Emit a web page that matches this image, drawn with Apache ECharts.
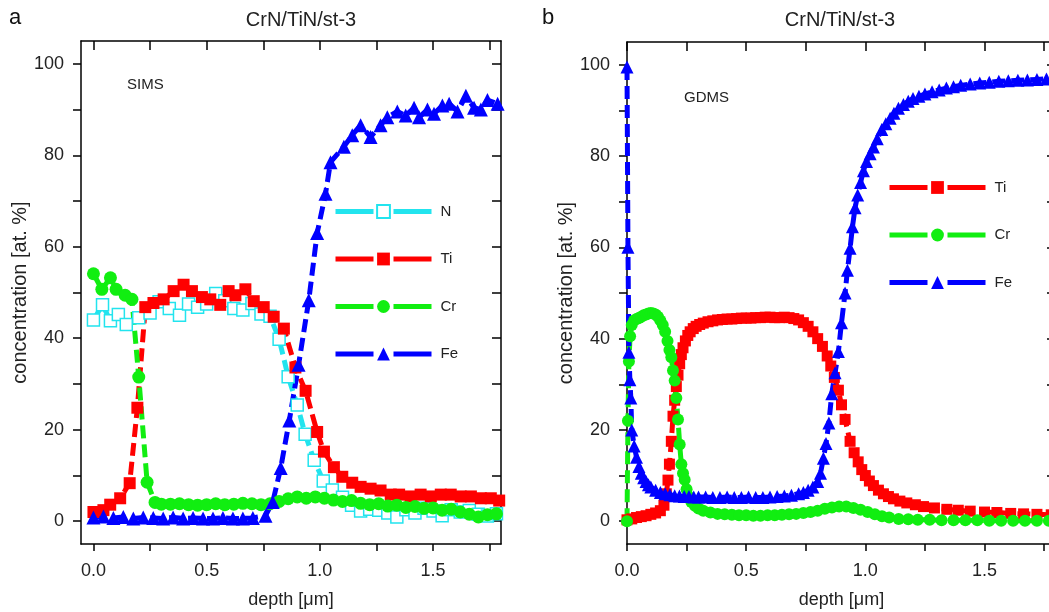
<!DOCTYPE html>
<html>
<head>
<meta charset="utf-8">
<script src="https://cdn.jsdelivr.net/npm/echarts@6/dist/echarts.min.js"></script>
<style>
  html, body { margin: 0; padding: 0; background: #ffffff; }
  #chart { width: 1049px; height: 612px; }
</style>
</head>
<body>
<div id="chart"></div>
<script>
// ---------- Panel a: SIMS depth profile ----------
const simsN_x  = [0, 0.04, 0.075, 0.11, 0.145, 0.2, 0.25, 0.29, 0.335, 0.38, 0.42, 0.46, 0.5, 0.54, 0.58, 0.62, 0.66, 0.7, 0.74, 0.78, 0.82, 0.86, 0.9, 0.935, 0.975, 1.015, 1.055, 1.1, 1.14, 1.18, 1.22, 1.26, 1.3, 1.34, 1.38, 1.42, 1.46, 1.5, 1.54, 1.58, 1.62, 1.66, 1.7, 1.74, 1.78];
const simsN_y  = [44, 47.3, 43.8, 45.2, 43, 44.5, 45.5, 48, 46.5, 45, 47.5, 46.8, 47.5, 49.8, 48.2, 46.5, 46.2, 47.6, 45.3, 44.8, 39.8, 31.6, 25.4, 19, 13.3, 8.8, 6.8, 5.2, 3.5, 2.2, 2.6, 2.4, 1.8, 0.9, 2.5, 1.8, 2.8, 2.2, 1.2, 2.5, 2, 2.3, 1.5, 1.1, 1.6];

const simsTi_x = [0, 0.044, 0.074, 0.118, 0.16, 0.194, 0.229, 0.265, 0.31, 0.354, 0.398, 0.435, 0.479, 0.516, 0.56, 0.597, 0.627, 0.671, 0.708, 0.752, 0.796, 0.841, 0.892, 0.937, 0.988, 1.018, 1.062, 1.099, 1.143, 1.18, 1.224, 1.268, 1.313, 1.35, 1.401, 1.445, 1.49, 1.534, 1.578, 1.622, 1.667, 1.711, 1.755, 1.792];
const simsTi_y = [2.0, 2.4, 3.6, 5.0, 8.3, 24.8, 46.8, 47.7, 48.5, 50.3, 51.7, 50.3, 49.0, 48.5, 47.3, 50.3, 49.4, 50.7, 48.1, 46.8, 44.7, 42.1, 33.6, 28.5, 19.5, 15.2, 11.8, 9.7, 8.4, 7.5, 7.1, 6.7, 5.8, 5.8, 5.4, 5.8, 5.4, 5.8, 5.8, 5.4, 5.4, 5.0, 5.0, 4.5];

const simsCr_x = [0, 0.037, 0.075, 0.1, 0.14, 0.17, 0.2, 0.237, 0.272, 0.3, 0.34, 0.38, 0.42, 0.46, 0.5, 0.54, 0.58, 0.62, 0.66, 0.7, 0.74, 0.78, 0.82, 0.86, 0.9, 0.94, 0.98, 1.02, 1.06, 1.1, 1.14, 1.18, 1.22, 1.26, 1.3, 1.34, 1.38, 1.42, 1.46, 1.5, 1.54, 1.58, 1.62, 1.66, 1.7, 1.74, 1.78];
const simsCr_y = [54.1, 50.7, 53.2, 50.7, 49.4, 48.5, 31.5, 8.5, 4.1, 3.7, 3.7, 3.8, 3.6, 3.5, 3.6, 3.8, 3.6, 3.7, 3.9, 3.8, 3.6, 3.8, 4.3, 4.9, 5.3, 5.0, 5.3, 5.0, 4.6, 4.3, 4.5, 3.9, 3.6, 3.8, 3.3, 3.5, 3.0, 3.2, 2.8, 2.9, 2.4, 2.6, 2.0, 1.5, 0.9, 1.4, 1.6];

const simsFe_x = [0, 0.044, 0.088, 0.132, 0.176, 0.22, 0.264, 0.308, 0.352, 0.396, 0.44, 0.484, 0.528, 0.572, 0.616, 0.66, 0.704, 0.76, 0.792, 0.827, 0.865, 0.906, 0.951, 0.988, 1.025, 1.047, 1.106, 1.143, 1.18, 1.224, 1.268, 1.298, 1.342, 1.379, 1.416, 1.438, 1.475, 1.504, 1.541, 1.571, 1.608, 1.645, 1.681, 1.711, 1.74, 1.785];
const simsFe_y = [0.8, 1.0, 0.7, 0.9, 0.6, 0.8, 0.7, 0.6, 0.8, 0.6, 0.7, 0.6, 0.6, 0.7, 0.6, 0.6, 0.7, 1.2, 4.2, 11.6, 22, 34.2, 48.3, 63, 71.6, 78.5, 81.9, 84.4, 86.6, 84, 86.6, 88.3, 89.6, 88.7, 90.4, 88.3, 90, 89.1, 90.9, 91.3, 89.6, 93, 90.4, 90, 92.1, 91.3];

// ---------- Panel b: GDMS depth profile ----------
const gdmsTi_x = [0, 0.02, 0.04, 0.06, 0.08, 0.1, 0.12, 0.14, 0.155, 0.165, 0.172, 0.178, 0.186, 0.193, 0.2, 0.207, 0.214, 0.221, 0.228, 0.235, 0.245, 0.255, 0.265, 0.278, 0.29, 0.305, 0.32, 0.34, 0.36, 0.38, 0.4, 0.42, 0.44, 0.46, 0.48, 0.5, 0.52, 0.54, 0.56, 0.58, 0.6, 0.62, 0.64, 0.66, 0.68, 0.7, 0.72, 0.74, 0.76, 0.78, 0.8, 0.82, 0.84, 0.855, 0.87, 0.887, 0.9, 0.915, 0.936, 0.953, 0.97, 0.985, 1.0, 1.017, 1.034, 1.055, 1.076, 1.097, 1.118, 1.145, 1.174, 1.21, 1.244, 1.29, 1.342, 1.39, 1.44, 1.5, 1.552, 1.61, 1.664, 1.72, 1.78];
const gdmsTi_y = [0.3, 0.5, 0.8, 1.0, 1.2, 1.5, 1.8, 2.3, 3.5, 6, 9, 12.5, 17.5, 23, 26.5, 29.5, 32, 34.5, 36.5, 38, 39.5, 40.7, 41.5, 42.2, 42.7, 43.1, 43.4, 43.7, 43.9, 44.1, 44.2, 44.3, 44.3, 44.4, 44.5, 44.5, 44.5, 44.6, 44.6, 44.7, 44.7, 44.6, 44.6, 44.7, 44.6, 44.4, 44.1, 43.5, 42.7, 41.5, 40, 38.3, 36.2, 34, 31.5, 28.7, 25.5, 22.3, 17.5, 15, 13, 11.3, 10, 8.8, 7.8, 6.8, 6.0, 5.4, 4.9, 4.4, 4.0, 3.6, 3.2, 2.9, 2.6, 2.4, 2.2, 2.0, 1.9, 1.7, 1.6, 1.5, 1.4];

const gdmsCr_x = [0, 0.004, 0.008, 0.013, 0.02, 0.03, 0.04, 0.05, 0.06, 0.07, 0.08, 0.09, 0.1, 0.11, 0.12, 0.13, 0.14, 0.15, 0.16, 0.17, 0.178, 0.186, 0.193, 0.2, 0.207, 0.214, 0.221, 0.228, 0.235, 0.242, 0.25, 0.26, 0.27, 0.285, 0.3, 0.32, 0.35, 0.38, 0.41, 0.44, 0.47, 0.5, 0.53, 0.56, 0.59, 0.62, 0.65, 0.68, 0.71, 0.74, 0.77, 0.8, 0.83, 0.86, 0.89, 0.92, 0.95, 0.98, 1.01, 1.04, 1.07, 1.1, 1.14, 1.18, 1.22, 1.27, 1.32, 1.37, 1.42, 1.47, 1.52, 1.57, 1.62, 1.67, 1.72, 1.77];
const gdmsCr_y = [0, 22, 35, 40.5, 43, 44, 44.3, 44.5, 44.8, 45.1, 45.3, 45.5, 45.6, 45.5, 45.3, 44.8, 44, 43, 41.5, 39.5, 37.5, 35.9, 33, 30.8, 27, 22.3, 16.8, 12.5, 10.5, 9.1, 7, 5.3, 4.2, 3.4, 2.8, 2.3, 1.9, 1.6, 1.5, 1.4, 1.3, 1.3, 1.2, 1.2, 1.3, 1.3, 1.4, 1.5, 1.6, 1.8, 2.0, 2.3, 2.7, 3.0, 3.2, 3.2, 2.9, 2.5, 2.0, 1.5, 1.1, 0.8, 0.5, 0.4, 0.3, 0.3, 0.2, 0.2, 0.2, 0.2, 0.1, 0.1, 0.1, 0.1, 0.1, 0.1];

const gdmsFe_x = [0, 0.004, 0.008, 0.012, 0.016, 0.02, 0.03, 0.04, 0.05, 0.06, 0.07, 0.08, 0.09, 0.1, 0.12, 0.14, 0.16, 0.18, 0.2, 0.22, 0.24, 0.26, 0.28, 0.3, 0.33, 0.36, 0.39, 0.42, 0.45, 0.48, 0.51, 0.54, 0.57, 0.6, 0.63, 0.66, 0.69, 0.72, 0.74, 0.76, 0.78, 0.8, 0.812, 0.824, 0.835, 0.847, 0.859, 0.873, 0.887, 0.9, 0.915, 0.925, 0.936, 0.946, 0.957, 0.968, 0.98, 0.992, 1.005, 1.02, 1.034, 1.05, 1.069, 1.086, 1.104, 1.12, 1.139, 1.16, 1.18, 1.2, 1.225, 1.25, 1.28, 1.31, 1.34, 1.37, 1.4, 1.44, 1.48, 1.52, 1.56, 1.6, 1.64, 1.68, 1.72, 1.76, 1.8];
const gdmsFe_y = [99.5, 60, 37, 31, 27, 20, 16.5, 14, 12, 10.5, 9.5, 8.7, 8, 7.5, 6.8, 6.3, 6.0, 5.8, 5.6, 5.5, 5.4, 5.4, 5.3, 5.3, 5.3, 5.2, 5.2, 5.3, 5.2, 5.2, 5.3, 5.2, 5.2, 5.3, 5.4, 5.5, 5.7, 6.0, 6.3, 6.8, 7.5, 8.7, 10.5, 13.8, 17, 21.5, 27.9, 32.5, 37.2, 43.5, 50, 55, 59.8, 64.5, 68.7, 71.5, 74.2, 76.8, 78.8, 80.5, 82, 83.8, 85.8, 87.1, 88.3, 89.4, 90.5, 91.3, 92, 92.6, 93.1, 93.6, 94.1, 94.5, 94.9, 95.2, 95.5, 95.8, 96, 96.2, 96.4, 96.5, 96.6, 96.7, 96.8, 96.9, 97];

// Tick positions
const xTicks = [0, 0.25, 0.5, 0.75, 1.0, 1.25, 1.5, 1.75];
const xLabels = [0, 0.5, 1.0, 1.5];
const yTicks = [0, 10, 20, 30, 40, 50, 60, 70, 80, 90, 100];
const yLabels = [0, 20, 40, 60, 80, 100];

const FONT = 'Liberation Sans, Arial, sans-serif';
const COLORS = { N: '#22e4ee', Ti: '#ff0000', Cr: '#11ee11', Fe: '#0000ff' };
const SYMBOLS = { N: 'rect', Ti: 'rect', Cr: 'circle', Fe: 'triangle' };

function pairs(xs, ys) { return xs.map((x, i) => [x, ys[i]]); }

function makeSeries(name, xs, ys, panel, size) {
  const hollow = name === 'N';
  return {
    name: name,
    type: 'line',
    xAxisIndex: panel * 2,
    yAxisIndex: panel * 2,
    data: pairs(xs, ys),
    symbol: SYMBOLS[name],
    symbolSize: name === 'Fe' ? size + 2 : size,
    showSymbol: true,
    animation: false,
    lineStyle: { color: COLORS[name], width: 5, type: [13, 6] },
    itemStyle: hollow
      ? { color: '#ffffff', borderColor: COLORS[name], borderWidth: 1.5 }
      : { color: COLORS[name] },
    emphasis: { disabled: true }
  };
}

function bottomX(grid, min, name) {
  return {
    gridIndex: grid, type: 'value', position: 'bottom', min: min, max: 1.8,
    axisLine: { onZero: false, lineStyle: { color: '#000', width: 1.5 } },
    axisTick: { customValues: xTicks, length: 7, inside: false, lineStyle: { color: '#000', width: 1.5 } },
    axisLabel: { customValues: xLabels, formatter: v => v.toFixed(1), fontSize: 18, fontFamily: FONT, color: '#222', margin: 18 },
    splitLine: { show: false },
    name: name, nameLocation: 'middle', nameGap: 47,
    nameTextStyle: { fontSize: 18, fontFamily: FONT, color: '#222' }
  };
}
function topX(grid, min) {
  return {
    gridIndex: grid, type: 'value', position: 'top', min: min, max: 1.8,
    axisLine: { onZero: false, lineStyle: { color: '#000', width: 1.5 } },
    axisTick: { customValues: xTicks, length: 9, inside: true, lineStyle: { color: '#000', width: 1.5 } },
    axisLabel: { show: false }, splitLine: { show: false }
  };
}
function leftY(grid, name) {
  return {
    gridIndex: grid, type: 'value', position: 'left', min: -5, max: 105,
    axisLine: { onZero: false, lineStyle: { color: '#000', width: 1.5 } },
    axisTick: { customValues: yTicks, length: 8, inside: false, lineStyle: { color: '#000', width: 1.5 } },
    axisLabel: { customValues: yLabels, fontSize: 18, fontFamily: FONT, color: '#222', margin: 17 },
    splitLine: { show: false },
    name: name, nameLocation: 'middle', nameGap: 47,
    nameTextStyle: { fontSize: 20, fontFamily: FONT, color: '#222' }
  };
}
function rightY(grid) {
  return {
    gridIndex: grid, type: 'value', position: 'right', min: -5, max: 105,
    axisLine: { onZero: false, lineStyle: { color: '#000', width: 1.5 } },
    axisTick: { customValues: yTicks, length: 9, inside: true, lineStyle: { color: '#000', width: 1.5 } },
    axisLabel: { show: false }, splitLine: { show: false }
  };
}

const legendBase = {
  orient: 'vertical', itemWidth: 96, itemHeight: 16, itemGap: 32.5,
  padding: 0,
  selectedMode: false,
  lineStyle: { width: 5, type: [38, 20] },
  textStyle: { fontSize: 15, fontFamily: FONT, color: '#222', padding: [0, 0, 0, 4] }
};

const chart = echarts.init(document.getElementById('chart'), null, { renderer: 'canvas' });
chart.setOption({
  backgroundColor: '#ffffff',
  animation: false,
  title: [
    { text: 'a', left: 4, top: 2, textStyle: { fontSize: 22, fontWeight: 'normal', fontFamily: FONT, color: '#111' } },
    { text: 'CrN/TiN/st-3', left: 296, top: 5, textAlign: 'center', textStyle: { fontSize: 20, fontWeight: 'normal', fontFamily: FONT, color: '#222' } },
    { text: 'SIMS', left: 122, top: 72, textStyle: { fontSize: 15, fontWeight: 'normal', fontFamily: FONT, color: '#222' } },
    { text: 'b', left: 537, top: 2, textStyle: { fontSize: 22, fontWeight: 'normal', fontFamily: FONT, color: '#111' } },
    { text: 'CrN/TiN/st-3', left: 835, top: 5, textAlign: 'center', textStyle: { fontSize: 20, fontWeight: 'normal', fontFamily: FONT, color: '#222' } },
    { text: 'GDMS', left: 679, top: 85, textStyle: { fontSize: 15, fontWeight: 'normal', fontFamily: FONT, color: '#222' } }
  ],
  legend: [
    Object.assign({}, legendBase, { data: ['N', 'Ti', 'Cr', 'Fe'], left: 333, top: 204 }),
    Object.assign({}, legendBase, { data: ['Ti', 'Cr', 'Fe'], left: 887, top: 180 })
  ],
  grid: [
    { left: 81, top: 41, width: 420, height: 503, outerBoundsMode: 'none' },
    { left: 627, top: 42, width: 429, height: 502, outerBoundsMode: 'none' }
  ],
  xAxis: [
    bottomX(0, -0.055, 'depth [μm]'), topX(0, -0.055),
    bottomX(1, 0, 'depth [μm]'), topX(1, 0)
  ],
  yAxis: [
    leftY(0, 'concentration [at. %]'), rightY(0),
    leftY(1, 'concentration [at. %]'), rightY(1)
  ],
  series: [
    makeSeries('N', simsN_x, simsN_y, 0, 12),
    makeSeries('Ti', simsTi_x, simsTi_y, 0, 12),
    makeSeries('Cr', simsCr_x, simsCr_y, 0, 13),
    makeSeries('Fe', simsFe_x, simsFe_y, 0, 12),
    makeSeries('Ti', gdmsTi_x, gdmsTi_y, 1, 11),
    makeSeries('Cr', gdmsCr_x, gdmsCr_y, 1, 12),
    makeSeries('Fe', gdmsFe_x, gdmsFe_y, 1, 11)
  ]
});
</script>
</body>
</html>
